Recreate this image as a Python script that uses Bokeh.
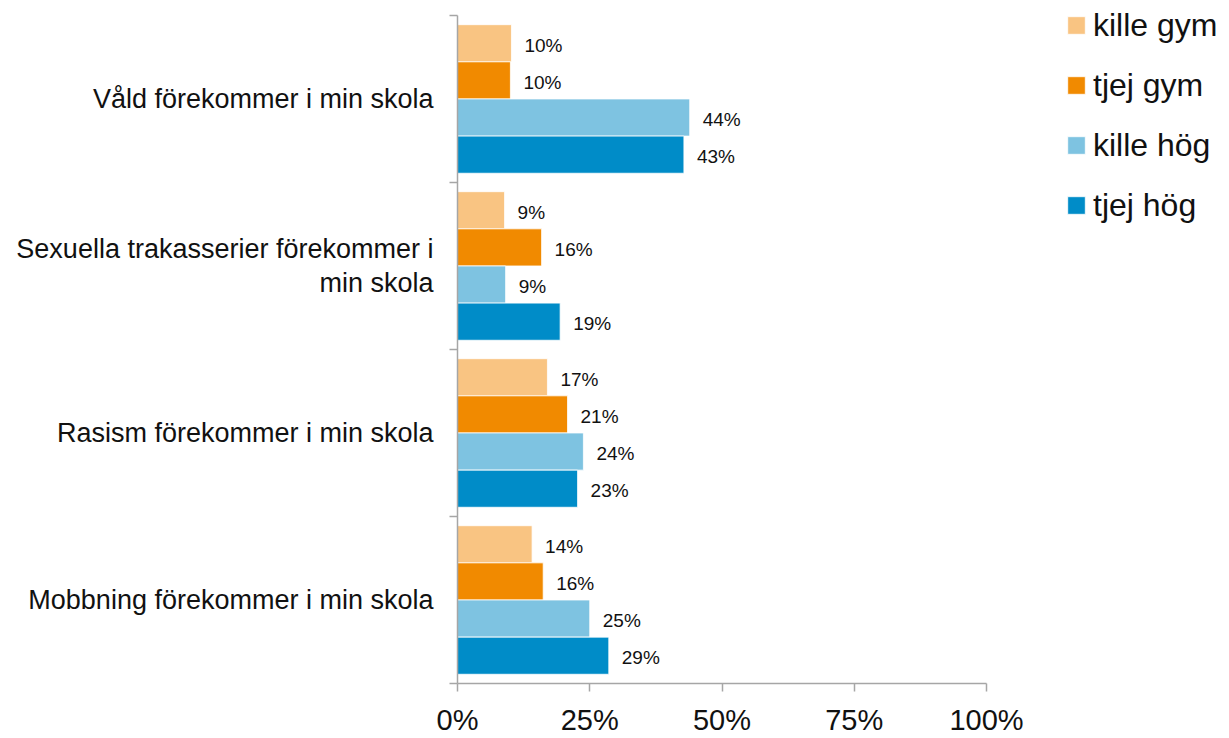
from bokeh.plotting import figure
from bokeh.models import ColumnDataSource, FixedTicker, LabelSet, Legend, LegendItem, Range1d
from bokeh.core.properties import value
from bokeh.embed import file_html
from bokeh.resources import INLINE

# ---- data ----
categories = [
    "Våld förekommer i min skola",
    "Sexuella trakasserier förekommer i\nmin skola",
    "Rasism förekommer i min skola",
    "Mobbning förekommer i min skola",
]
series = ["kille gym", "tjej gym", "kille hög", "tjej hög"]
kille_gym = [10.2, 8.9, 17.0, 14.1]
tjej_gym = [10.0, 15.9, 20.8, 16.2]
kille_hog = [43.9, 9.1, 23.8, 25.0]
tjej_hog = [42.8, 19.4, 22.7, 28.6]
x_ticks = [0, 25, 50, 75, 100]
x_tick_labels = ["0%", "25%", "50%", "75%", "100%"]

colors = ["#F9C482", "#F18A00", "#7EC3E1", "#008CC8"]
FONT = "Liberation Sans"
AXIS_COLOR = "#A6A6A6"
TEXT_COLOR = "#111111"

values = [kille_gym, tjej_gym, kille_hog, tjej_hog]
n = len(categories)
centers = [n - i - 0.5 for i in range(n)]
bar_h = 0.2224
offsets = [1.5, 0.5, -0.5, -1.5]

W, H = 1229, 738
left_px, axis_px = 457, 529            # plot-area left edge and width of the 0-100 % axis
bottom_px, cat_px = 685, 167.5         # x-axis position and height of one category band
x_max = 100 * (W - left_px) / axis_px  # frame runs to the right edge so the legend is not clipped
y_max = bottom_px / cat_px             # frame runs to the top edge (axis line bounded to 0..n)

p = figure(width=W, height=H,
           x_range=Range1d(0, x_max), y_range=Range1d(0, y_max),
           output_backend="svg", toolbar_location=None,
           min_border_left=left_px, min_border_right=0,
           min_border_top=0, min_border_bottom=H - bottom_px)
p.outline_line_color = None
p.grid.visible = False
p.background_fill_color = "white"

renderers = []
for j, s in enumerate(series):
    src = ColumnDataSource(dict(
        y=[c + offsets[j] * bar_h for c in centers],
        v=values[j],
        lbl=[f"{round(v)}%" for v in values[j]],
    ))
    r = p.hbar(y="y", left=0, right="v", height=bar_h, source=src,
               fill_color=colors[j], line_color="white", line_width=0.8)
    renderers.append(r)
    p.add_layout(LabelSet(x="v", y="y", text="lbl", source=src, x_offset=13, y_offset=-2,
                          text_baseline="middle", text_align="left",
                          text_font=value(FONT), text_font_size="19px",
                          text_color=TEXT_COLOR))

# y axis: labels at category centres, ticks at category boundaries
ya = p.yaxis[0]
ya.ticker = FixedTicker(ticks=centers, minor_ticks=list(range(n + 1)))
ya.bounds = (0, n)
ya.major_label_overrides = {c: lab for c, lab in zip(centers, categories)}
ya.major_tick_line_color = None
ya.major_tick_out = 8
ya.major_tick_in = 0
ya.minor_tick_out = 8
ya.minor_tick_in = 0
ya.minor_tick_line_color = AXIS_COLOR
ya.minor_tick_line_width = 1.5
ya.axis_line_color = AXIS_COLOR
ya.axis_line_width = 1.5
ya.major_label_standoff = 16
ya.major_label_text_font = FONT
ya.major_label_text_font_size = "27px"
ya.major_label_text_line_height = 1.15
ya.major_label_text_color = TEXT_COLOR
ya.major_label_text_align = "right"

xa = p.xaxis[0]
xa.ticker = FixedTicker(ticks=x_ticks, minor_ticks=[])
xa.bounds = (x_ticks[0], x_ticks[-1])
xa.major_label_overrides = {t: l for t, l in zip(x_ticks, x_tick_labels)}
xa.major_tick_out = 8
xa.major_tick_in = 0
xa.major_tick_line_color = AXIS_COLOR
xa.major_tick_line_width = 1.5
xa.axis_line_color = AXIS_COLOR
xa.axis_line_width = 1.5
xa.major_label_standoff = 12
xa.major_label_text_font = FONT
xa.major_label_text_font_size = "29px"
xa.major_label_text_color = TEXT_COLOR

legend = Legend(
    items=[LegendItem(label=s, renderers=[r]) for s, r in zip(series, renderers)],
    location=(608, 458), orientation="vertical",
    glyph_width=22, glyph_height=22, label_standoff=6, label_height=40,
    spacing=20, padding=0, margin=0,
    border_line_color=None, background_fill_alpha=0,
    label_text_font=FONT, label_text_font_size="32px", label_text_color=TEXT_COLOR,
)
p.add_layout(legend)

open("out.html", "w").write(file_html(p, INLINE))
